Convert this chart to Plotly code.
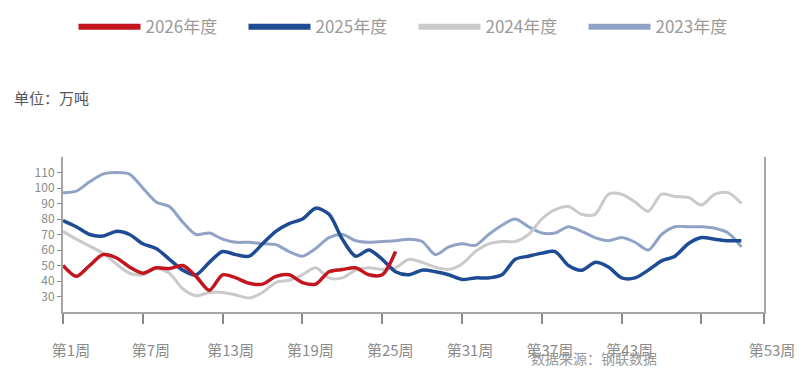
import plotly.graph_objects as go

weeks_2026 = list(range(1, 27))
weeks_full = list(range(1, 53))

v2026 = [50, 43, 50, 57, 55, 49, 45, 48.5, 48, 50, 43, 34, 44, 42, 38.5, 38, 43, 44, 39, 38,
         46, 47.4, 48.5, 44, 44, 59]
v2025 = [79, 75, 70, 69, 72, 70, 64, 61, 54, 47, 44, 52, 59, 57, 56, 64, 72, 77, 80, 87,
         83, 67, 56, 60, 54, 46, 44, 47, 46, 44, 41, 42, 42, 44, 54, 56, 58, 59, 50, 47,
         52, 49, 42, 42, 47, 53, 56, 64, 68, 67, 66, 66]
v2024 = [72, 67, 62.5, 58, 51, 45, 44, 48, 45, 35, 30.5, 32.6, 32.6, 31, 29, 32.6, 39, 40.5, 44, 48.5,
         42, 42, 47, 48.5, 47.5, 48.5, 54, 52, 49, 47.5, 51, 59, 64, 65.5, 65.5, 70, 80, 86, 88, 83,
         83, 96, 96, 91, 85, 96, 94.5, 94, 89, 96, 97, 90]
v2023 = [97, 98, 104, 109, 110, 109, 100, 91, 88, 78, 70, 71, 67, 65, 65, 64, 63.5, 59, 56, 61,
         68, 70, 66, 65, 65.5, 66, 67, 65.5, 57, 62, 64, 63, 70, 76, 80, 75, 71, 71, 75, 72,
         68, 66, 68, 65, 60, 70, 75, 75, 75, 74, 71, 62]

tick_vals = [1, 7, 13, 19, 25, 31, 37, 43, 49, 53.7]
tick_text = ["第1周", "第7周", "第13周", "第19周", "第25周", "第31周", "第37周", "第43周", "", "第53周"]
y_ticks = [30, 40, 50, 60, 70, 80, 90, 100, 110]

series = [
    ("2026年度", weeks_2026, v2026, "#C3151E", 3.5),
    ("2025年度", weeks_full, v2025, "#1E4B93", 3.5),
    ("2024年度", weeks_full, v2024, "#CACACA", 3),
    ("2023年度", weeks_full, v2023, "#90A3C7", 3),
]

fig = go.Figure()
# data lines (older years drawn first, below)
for name, xs, ys, color, w in reversed(series):
    fig.add_trace(go.Scatter(x=xs, y=ys, name=name, mode="lines", showlegend=False,
                             line=dict(color=color, width=w, shape="spline", smoothing=0.8)))
# legend entries with thicker swatches
for name, xs, ys, color, w in series:
    fig.add_trace(go.Scatter(x=[None], y=[None], name=name, mode="lines",
                             line=dict(color=color, width=6)))

fig.update_layout(
    width=807, height=372,
    margin=dict(l=63, r=21, t=157, b=59),
    plot_bgcolor="white", paper_bgcolor="white",
    font=dict(family="Noto Sans CJK SC, Noto Sans, sans-serif", color="#8a8a8a"),
    legend=dict(orientation="h", x=0.5, xanchor="center", y=0.975, yanchor="top",
                yref="container", itemwidth=62, entrywidth=93,
                font=dict(size=17, color="#9a9a9a")),
    showlegend=True,
)
fig.update_xaxes(range=[1, 53.7], tickvals=tick_vals, ticktext=tick_text,
                 showgrid=False, zeroline=False, showline=True, linecolor="#a6a6a6",
                 linewidth=2, ticks="outside", ticklen=10, tickcolor="#8a8a8a", tickwidth=1.5,
                 tickfont=dict(size=15, color="#8a8a8a"), ticklabelshift=8,
                 ticklabelstandoff=14, ticklabeloverflow="allow")
fig.update_yaxes(range=[20, 120], tickvals=y_ticks, showgrid=False, zeroline=False,
                 showline=True, linecolor="#a6a6a6", linewidth=2, mirror=True,
                 ticks="outside", ticklen=4, tickcolor="#8a8a8a",
                 tickfont=dict(size=12, color="#8a8a8a"))

fig.add_annotation(text="单位：万吨", xref="paper", yref="paper", x=-0.073, y=1.385,
                   xanchor="left", yanchor="middle", showarrow=False,
                   font=dict(size=15, color="#555555"))
fig.add_annotation(text="数据来源：钢联数据", xref="paper", yref="paper", x=0.757, y=-0.375,
                   xanchor="center", yanchor="bottom", showarrow=False,
                   font=dict(size=14, color="#999999"))

fig.write_html("out.html")
